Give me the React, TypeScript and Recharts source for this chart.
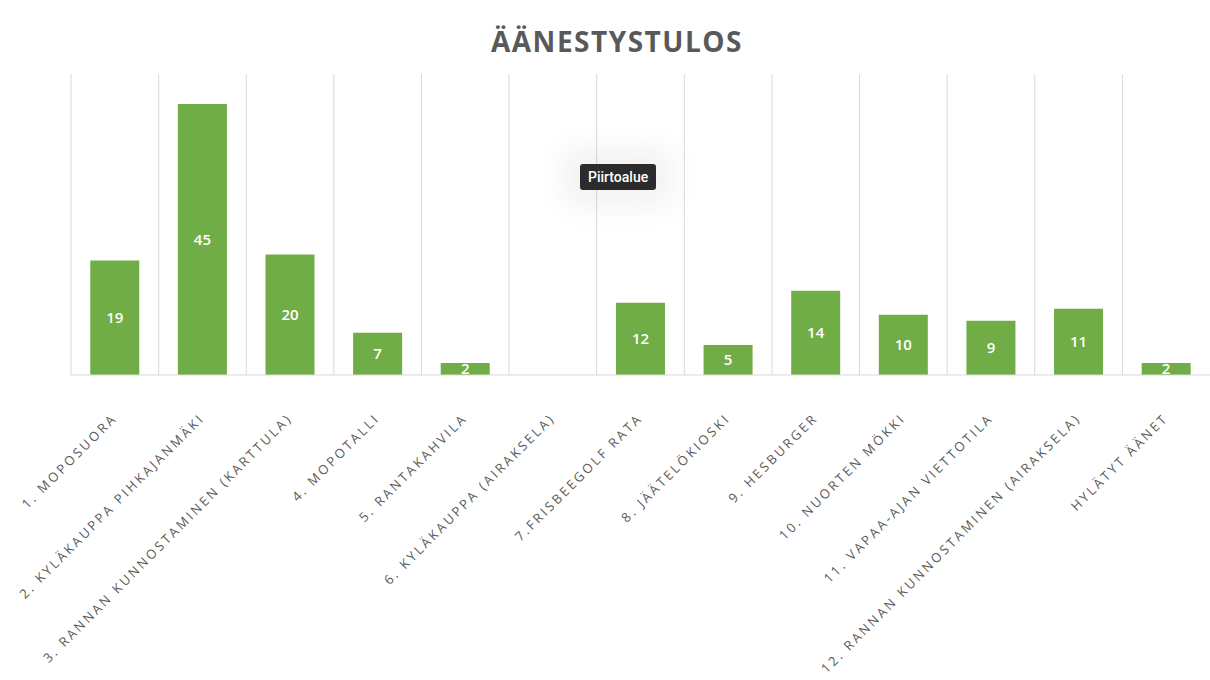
import { BarChart, Bar, XAxis, YAxis, CartesianGrid, LabelList } from "recharts";

const kohteet = [
  "1. MOPOSUORA",
  "2. KYLÄKAUPPA PIHKAJANMÄKI",
  "3. RANNAN KUNNOSTAMINEN (KARTTULA)",
  "4. MOPOTALLI",
  "5. RANTAKAHVILA",
  "6. KYLÄKAUPPA (AIRAKSELA)",
  "7.FRISBEEGOLF RATA",
  "8. JÄÄTELÖKIOSKI",
  "9. HESBURGER",
  "10. NUORTEN MÖKKI",
  "11. VAPAA-AJAN VIETTOTILA",
  "12. RANNAN KUNNOSTAMINEN (AIRAKSELA)",
  "HYLÄTYT ÄÄNET",
];

const aanet = [19, 45, 20, 7, 2, 0, 12, 5, 14, 10, 9, 11, 2];

const data = kohteet.map((nimi, i) => ({ nimi, aanet: aanet[i] }));

const vihrea = "#70AD47";
const harmaa = "#595959";
const viiva = "#D9D9D9";

function KulmaTick({ x, y, payload }: any) {
  return (
    <g transform={`translate(${x + 3},${y + 36})`}>
      <text
        x={0}
        y={0}
        transform="rotate(-45)"
        textAnchor="end"
        fill={harmaa}
        fontSize={13}
        letterSpacing={2.6}
        fontFamily="'Open Sans', sans-serif"
      >
        {payload.value}
      </text>
    </g>
  );
}

export default function App() {
  return (
    <div style={{ position: "absolute", left: 0, top: 0, width: 1210, height: 680, background: "#fff" }}>
      <div
        style={{
          position: "absolute",
          top: 23,
          left: 0,
          width: 1234,
          textAlign: "center",
          fontFamily: "'Open Sans', sans-serif",
          fontWeight: 700,
          fontSize: 28,
          letterSpacing: 1.5,
          color: harmaa,
          lineHeight: "36px",
        }}
      >
        ÄÄNESTYSTULOS
      </div>
      <BarChart
        width={1210}
        height={680}
        data={data}
        margin={{ top: 74, right: 0, bottom: 0, left: 71 }}
        barCategoryGap="22%"
      >
        <CartesianGrid
          horizontal={false}
          stroke={viiva}
          verticalCoordinatesGenerator={({ offset }: any) =>
            kohteet.map((_, i) => offset.left + (i * offset.width) / kohteet.length)
          }
        />
        <XAxis
          dataKey="nimi"
          interval={0}
          height={305}
          tickLine={false}
          axisLine={{ stroke: viiva }}
          tick={<KulmaTick />}
        />
        <YAxis hide domain={[0, 50]} />
        <Bar dataKey="aanet" fill={vihrea} isAnimationActive={false}>
          <LabelList
            dataKey="aanet"
            position="center"
            fill="#fff"
            fontSize={15}
            fontWeight={600}
            fontFamily="'Open Sans', sans-serif"
          />
        </Bar>
      </BarChart>
      <div
        style={{
          position: "absolute",
          left: 580,
          top: 164,
          padding: "0 8px",
          height: 26,
          lineHeight: "26px",
          background: "#2b2b2b",
          color: "#fff",
          borderRadius: 3,
          fontFamily: "Roboto, sans-serif",
          fontWeight: 500,
          fontSize: 14,
          boxShadow: "0 0 30px 18px rgba(0,0,0,0.05)",
        }}
      >
        Piirtoalue
      </div>
    </div>
  );
}
